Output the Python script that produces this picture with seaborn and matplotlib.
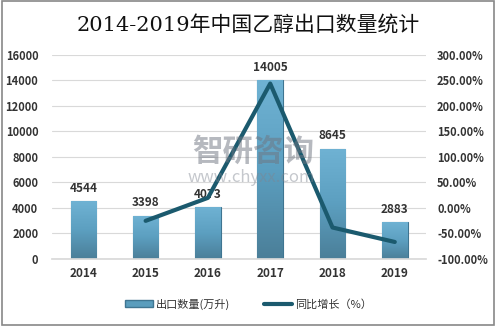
import numpy as np
import pandas as pd
import matplotlib
matplotlib.use("Agg")
import matplotlib.pyplot as plt
import seaborn as sns
from matplotlib.patches import Rectangle
from matplotlib.ticker import FuncFormatter
from matplotlib.colors import LinearSegmentedColormap

years = ["2014", "2015", "2016", "2017", "2018", "2019"]
export_volume = [4544, 3398, 4073, 14005, 8645, 2883]
growth_pct = [None, -25.22, 19.86, 243.85, -38.27, -66.65]

sns.set_theme(style="white")
plt.rcParams['font.family'] = ['Noto Sans CJK SC', 'DejaVu Sans']

fig = plt.figure(figsize=(4.97, 3.27), dpi=100)
ax = fig.add_axes([0.105, 0.208, 0.752, 0.624])
ax2 = ax.twinx()

df = pd.DataFrame({"year": years, "volume": export_volume})
sns.barplot(data=df, x="year", y="volume", ax=ax, color="#5a9dbd", width=0.41,
            saturation=1, edgecolor="#3f7591", linewidth=0.8, label="出口数量(万升)")

# gradient fill on bars
grad = np.linspace(0, 1, 64).reshape(-1, 1)
cmap = LinearSegmentedColormap.from_list("g", ["#4b7f99", "#5c9fc0", "#6fb2d3"])
for p in ax.patches:
    x0, y0 = p.get_x(), p.get_y()
    w, h = p.get_width(), p.get_height()
    im = ax.imshow(grad, extent=[x0, x0 + w, y0, y0 + h], aspect="auto",
                   cmap=cmap, origin="lower", zorder=p.get_zorder() + 0.1)
    im.set_clip_path(p)

ax.set_ylim(0, 16000)
ax.set_xlim(-0.5, 5.5)
ax.set_yticks(range(0, 16001, 2000))
ax.grid(axis="y", color="#d9d9d9", linewidth=0.8)
ax.set_axisbelow(True)
ax.set_xlabel("")
ax.set_ylabel("")
for s in ax.spines.values():
    s.set_visible(False)
for s in ax2.spines.values():
    s.set_visible(False)
ax.spines["bottom"].set_visible(True)
ax.spines["bottom"].set_color("#d9d9d9")
ax.tick_params(axis="y", labelsize=8, colors="#333333", length=0, pad=10)
ax.tick_params(axis="x", labelsize=8.5, colors="#333333", length=0, pad=6)
for t in ax.get_xticklabels():
    t.set_fontweight("bold")
for t in ax.get_yticklabels():
    t.set_fontweight("bold")

for i, v in enumerate(export_volume):
    ax.text(i, v + 500, f"{v}", ha="center", va="bottom", fontsize=8.5,
            color="#333333", fontweight="bold", zorder=1)

gx = [i for i, g in enumerate(growth_pct) if g is not None]
gy = [g for g in growth_pct if g is not None]
sns.lineplot(x=gx, y=gy, ax=ax2, color="#1b5a6e", linewidth=3, label="同比增长（%）")
ax2.set_ylim(-100, 300)
ax2.set_yticks(range(-100, 301, 50))
ax2.yaxis.set_major_formatter(FuncFormatter(lambda v, p: f"{v:.2f}%"))
ax2.tick_params(axis="y", labelsize=8, colors="#333333", length=0, pad=8)
for t in ax2.get_yticklabels():
    t.set_fontweight("bold")
ax2.grid(False)
ax2.set_xlim(-0.5, 5.5)

# watermark
fig.text(0.51, 0.535, "智研咨询", ha="center", va="center", fontsize=22,
         color="#6f7580", alpha=0.5, zorder=5, fontweight="bold")
fig.text(0.505, 0.458, "www.chyxx.com", ha="center", va="center", fontsize=12,
         color="#7f8590", alpha=0.45, zorder=5)

# legend
h2, l2 = ax2.get_legend_handles_labels()
if ax2.get_legend():
    ax2.get_legend().remove()
if ax.get_legend():
    ax.get_legend().remove()
leg = fig.legend([Rectangle((0, 0), 1, 1, facecolor="#5a9dbd", edgecolor="#3f7591")] + h2,
                 ["出口数量(万升)"] + l2, loc="center", bbox_to_anchor=(0.5, 0.07),
                 ncol=2, frameon=False, fontsize=8, handlelength=2.5, handleheight=0.5,
                 columnspacing=3, handletextpad=0.3)
for t in leg.get_texts():
    t.set_color("#333333")

fig.text(0.5, 0.925, "2014-2019年中国乙醇出口数量统计", ha="center", va="center",
         fontsize=15, color="#111111",
         family=['DejaVu Serif', 'Noto Sans CJK SC'])

# outer frame
fig.patches.append(Rectangle((0.004, 0.006), 0.99, 0.99, transform=fig.transFigure,
                             fill=False, edgecolor="#888888", linewidth=1.2))

fig.savefig("out.png", dpi=100)
